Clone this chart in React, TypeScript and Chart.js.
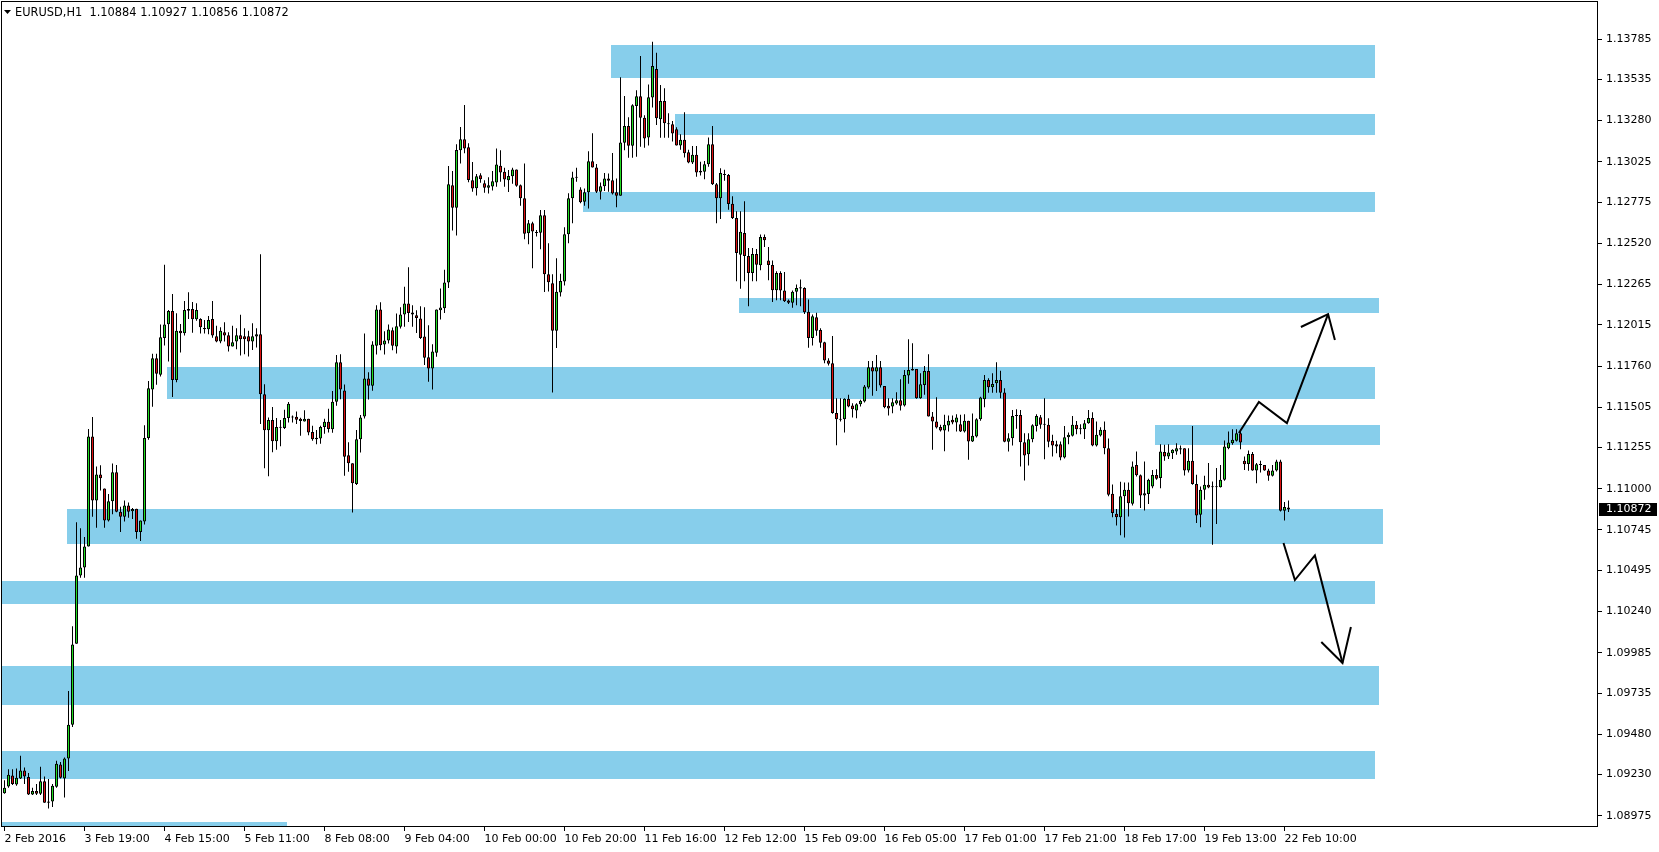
import React, { useEffect, useRef } from 'react';
import { Chart, registerables } from 'chart.js';

Chart.register(...registerables);

const symbolName = 'EURUSD,H1';

const opens = [
1.09115,1.09156,1.09224,1.09168,1.09206,1.09256,1.09215,1.09106,1.09129,1.09111,
1.09188,1.09056,1.09063,1.09154,1.09292,1.09206,1.09329,1.09538,1.10040,1.10463,
1.10513,1.10642,1.11324,1.10927,1.11088,1.11002,1.10804,1.10922,1.11102,1.10858,
1.10827,1.10897,1.10861,1.10877,1.10733,1.10797,1.11315,1.11615,1.11808,1.11706,
1.11933,1.12019,1.12101,1.11673,1.11978,1.11963,1.12114,1.12114,1.12050,1.12052,
1.11996,1.11988,1.12052,1.11945,1.11912,1.11969,1.11951,1.11881,1.11912,1.11951,
1.11945,1.11945,1.11912,1.11943,1.11957,1.11586,1.11362,1.11426,1.11294,1.11378,
1.11376,1.11438,1.11442,1.11446,1.11434,1.11417,1.11434,1.11351,1.11316,1.11312,
1.11382,1.11415,1.11368,1.11539,1.11783,1.11609,1.11207,1.11158,1.11030,1.11306,
1.11448,1.11683,1.11638,1.11885,1.12110,1.11894,1.11918,1.11982,1.11881,1.12003,
1.12079,1.12147,1.12091,1.12075,1.12054,1.11943,1.11815,1.11745,1.11842,1.12105,
1.12118,1.12277,1.12880,1.12741,1.13096,1.13164,1.13115,1.12911,1.12861,1.12942,
1.12892,1.12865,1.12872,1.12897,1.13000,1.12963,1.12910,1.12935,1.12978,1.12879,
1.12799,1.12582,1.12644,1.12588,1.12586,1.12694,1.12329,1.12273,1.11979,1.12216,
1.12284,1.12576,1.12799,1.12928,1.12854,1.12778,1.12836,1.13029,1.12990,1.12840,
1.12873,1.12922,1.12910,1.12836,1.12815,1.13143,1.13246,1.13124,1.13371,1.13431,
1.13297,1.13176,1.13423,1.13600,1.13288,1.13402,1.13263,1.13257,1.13226,1.13126,
1.13161,1.13084,1.13020,1.13068,1.12969,1.12964,1.13010,1.13134,1.12886,1.12800,
1.12943,1.12943,1.12765,1.12677,1.12450,1.12584,1.12442,1.12337,1.12454,1.12384,
1.12559,1.12413,1.12386,1.12230,1.12337,1.12228,1.12166,1.12152,1.12220,1.12240,
1.12244,1.12096,1.11933,1.12062,1.11983,1.11907,1.11794,1.11777,1.11469,1.11433,
1.11431,1.11557,1.11516,1.11485,1.11524,1.11540,1.11627,1.11753,1.11726,1.11753,
1.11637,1.11514,1.11510,1.11528,1.11549,1.11516,1.11701,1.11742,1.11742,1.11561,
1.11643,1.11730,1.11448,1.11417,1.11382,1.11361,1.11392,1.11427,1.11411,1.11400,
1.11355,1.11421,1.11293,1.11324,1.11431,1.11554,1.11674,1.11628,1.11653,1.11674,
1.11597,1.11292,1.11313,1.11451,1.11457,1.11288,1.11214,1.11307,1.11389,1.11443,
1.11402,1.11396,1.11297,1.11276,1.11276,1.11194,1.11319,1.11328,1.11396,1.11371,
1.11369,1.11406,1.11439,1.11268,1.11330,1.11365,1.11251,1.10969,1.10846,1.10823,
1.10953,1.10994,1.10907,1.11148,1.11084,1.10959,1.10967,1.11014,1.11086,1.11066,
1.11227,1.11200,1.11220,1.11231,1.11251,1.11251,1.11113,1.11173,1.11029,1.10839,
1.10994,1.11025,1.11014,1.11010,1.11010,1.11056,1.11251,1.11282,1.11297,1.11344,
1.11173,1.11154,1.11216,1.11113,1.11148,1.11148,1.11113,1.11080,1.11113,1.11169,
1.10864,1.10884];

const highs = [
1.09195,1.09263,1.09263,1.09267,1.09347,1.09274,1.09240,1.09149,1.09172,1.09279,
1.09218,1.09202,1.09172,1.09315,1.09308,1.09336,1.09747,1.10149,1.10792,1.10756,
1.10702,1.11370,1.11445,1.11138,1.11145,1.11002,1.10967,1.11156,1.11147,1.10888,
1.10927,1.10915,1.10881,1.10877,1.10804,1.11393,1.11668,1.11836,1.11836,1.12018,
1.12388,1.12107,1.12206,1.12087,1.12021,1.12163,1.12217,1.12157,1.12149,1.12056,
1.12046,1.12070,1.12163,1.12009,1.12000,1.12031,1.11969,1.12009,1.11994,1.12077,
1.11994,1.11978,1.12025,1.11994,1.12453,1.11648,1.11442,1.11506,1.11438,1.11426,
1.11489,1.11537,1.11454,1.11479,1.11440,1.11487,1.11434,1.11391,1.11364,1.11391,
1.11434,1.11495,1.11605,1.11828,1.11833,1.11646,1.11288,1.11158,1.11364,1.11457,
1.11961,1.11722,1.11914,1.12137,1.12155,1.11976,1.12017,1.11999,1.12085,1.12124,
1.12251,1.12372,1.12137,1.12106,1.12130,1.12124,1.12013,1.11895,1.12110,1.12240,
1.12357,1.12999,1.12968,1.13134,1.13241,1.13377,1.13140,1.13024,1.12950,1.12954,
1.12911,1.12929,1.12968,1.13108,1.13097,1.12988,1.12974,1.12988,1.12978,1.12885,
1.13015,1.12665,1.12654,1.12603,1.12726,1.12726,1.12520,1.12329,1.12428,1.12331,
1.12619,1.12830,1.12963,1.12988,1.12867,1.12860,1.13091,1.13202,1.13011,1.12897,
1.12955,1.12953,1.13079,1.12922,1.13549,1.13432,1.13301,1.13382,1.13468,1.13680,
1.13313,1.13503,1.13769,1.13700,1.13500,1.13480,1.13325,1.13278,1.13239,1.13196,
1.13332,1.13099,1.13123,1.13123,1.13026,1.13030,1.13175,1.13247,1.12893,1.12985,
1.12976,1.12949,1.12811,1.12718,1.12718,1.12780,1.12491,1.12491,1.12485,1.12574,
1.12574,1.12498,1.12413,1.12347,1.12347,1.12343,1.12172,1.12228,1.12265,1.12296,
1.12248,1.12172,1.12079,1.12090,1.11994,1.11911,1.11808,1.11946,1.11561,1.11561,
1.11561,1.11582,1.11530,1.11530,1.11551,1.11643,1.11792,1.11792,1.11829,1.11792,
1.11637,1.11561,1.11561,1.11598,1.11678,1.11736,1.11926,1.11901,1.11742,1.11716,
1.11761,1.11833,1.11475,1.11567,1.11396,1.11458,1.11454,1.11454,1.11462,1.11458,
1.11462,1.11421,1.11466,1.11437,1.11570,1.11705,1.11684,1.11715,1.11783,1.11731,
1.11622,1.11344,1.11488,1.11492,1.11488,1.11344,1.11344,1.11400,1.11461,1.11457,
1.11560,1.11437,1.11334,1.11297,1.11293,1.11389,1.11348,1.11451,1.11420,1.11400,
1.11426,1.11488,1.11474,1.11416,1.11381,1.11416,1.11311,1.11027,1.10874,1.11043,
1.11039,1.11039,1.11169,1.11231,1.11089,1.11169,1.11062,1.11117,1.11121,1.11276,
1.11272,1.11276,1.11245,1.11282,1.11268,1.11251,1.11251,1.11389,1.11087,1.11014,
1.11080,1.11159,1.11045,1.11128,1.11148,1.11299,1.11354,1.11369,1.11369,1.11360,
1.11200,1.11237,1.11227,1.11159,1.11173,1.11148,1.11124,1.11148,1.11179,1.11179,
1.10918,1.10927];

const lows = [
1.09111,1.09149,1.09165,1.09161,1.09202,1.09172,1.09104,1.09104,1.09104,1.09104,
1.09056,1.09020,1.09029,1.09149,1.09206,1.09088,1.09252,1.09524,1.10040,1.10449,
1.10449,1.10642,1.10827,1.10758,1.10990,1.10758,1.10797,1.10842,1.10854,1.10733,
1.10797,1.10820,1.10813,1.10690,1.10677,1.10779,1.11304,1.11508,1.11645,1.11695,
1.11888,1.11788,1.11568,1.11660,1.11844,1.11949,1.12052,1.11967,1.12041,1.11961,
1.11961,1.11957,1.11936,1.11908,1.11901,1.11912,1.11850,1.11881,1.11864,1.11825,
1.11833,1.11819,1.11860,1.11875,1.11401,1.11127,1.11077,1.11226,1.11242,1.11263,
1.11370,1.11411,1.11411,1.11401,1.11329,1.11417,1.11331,1.11298,1.11275,1.11279,
1.11341,1.11349,1.11347,1.11514,1.11554,1.11081,1.11106,1.10853,1.11024,1.11224,
1.11436,1.11553,1.11607,1.11831,1.11858,1.11831,1.11899,1.11858,1.11838,1.11992,
1.12003,1.12033,1.12003,1.11965,1.11928,1.11766,1.11663,1.11615,1.11818,1.12048,
1.12089,1.12244,1.12599,1.12568,1.13014,1.13078,1.12898,1.12840,1.12816,1.12896,
1.12834,1.12828,1.12847,1.12871,1.12902,1.12871,1.12838,1.12889,1.12871,1.12753,
1.12545,1.12514,1.12365,1.12562,1.12483,1.12218,1.12222,1.11597,1.11872,1.12191,
1.12259,1.12520,1.12644,1.12902,1.12768,1.12753,1.12735,1.12990,1.12832,1.12792,
1.12844,1.12840,1.12823,1.12743,1.12815,1.13097,1.13050,1.13050,1.13056,1.13118,
1.13112,1.13126,1.13361,1.13253,1.13174,1.13174,1.13174,1.13150,1.13126,1.13099,
1.13051,1.13016,1.13012,1.12933,1.12940,1.12917,1.12995,1.12882,1.12645,1.12670,
1.12908,1.12728,1.12670,1.12285,1.12238,1.12285,1.12131,1.12285,1.12285,1.12353,
1.12498,1.12292,1.12156,1.12168,1.12168,1.12156,1.12145,1.12121,1.12137,1.12131,
1.12083,1.11873,1.11888,1.11948,1.11874,1.11777,1.11763,1.11465,1.11269,1.11417,
1.11349,1.11505,1.11441,1.11437,1.11510,1.11534,1.11619,1.11576,1.11606,1.11627,
1.11499,1.11454,1.11468,1.11520,1.11485,1.11510,1.11650,1.11732,1.11557,1.11557,
1.11582,1.11448,1.11242,1.11374,1.11355,1.11232,1.11355,1.11400,1.11355,1.11351,
1.11349,1.11180,1.11289,1.11318,1.11421,1.11505,1.11595,1.11595,1.11595,1.11560,
1.11288,1.11231,1.11268,1.11371,1.11138,1.11051,1.11144,1.11288,1.11354,1.11371,
1.11183,1.11257,1.11200,1.11220,1.11177,1.11187,1.11276,1.11323,1.11338,1.11338,
1.11309,1.11402,1.11264,1.11262,1.11323,1.11214,1.10953,1.10823,1.10773,1.10712,
1.10699,1.10829,1.10897,1.11076,1.10881,1.10866,1.10905,1.11004,1.11056,1.11004,
1.11173,1.11185,1.11185,1.11210,1.11214,1.11082,1.11101,1.11025,1.10788,1.10761,
1.10932,1.11004,1.10654,1.10782,1.11008,1.11049,1.11245,1.11272,1.11293,1.11245,
1.11117,1.11111,1.11111,1.11035,1.11101,1.11111,1.11049,1.11076,1.11107,1.10860,
1.10804,1.10856];

const closes = [
1.09149,1.09229,1.09172,1.09211,1.09256,1.09218,1.09106,1.09129,1.09111,1.09188,
1.09056,1.09063,1.09161,1.09297,1.09211,1.09329,1.09538,1.10036,1.10463,1.10513,
1.10642,1.11324,1.10927,1.11088,1.11065,1.10804,1.10922,1.11102,1.10858,1.10827,
1.10897,1.10858,1.10874,1.10733,1.10804,1.11315,1.11622,1.11808,1.11713,1.11938,
1.12018,1.12101,1.11673,1.11978,1.11963,1.12107,1.12103,1.12050,1.12107,1.12000,
1.11988,1.12046,1.11949,1.11912,1.11978,1.11949,1.11881,1.11908,1.11951,1.11926,
1.11926,1.11912,1.11945,1.11957,1.11586,1.11362,1.11426,1.11294,1.11382,1.11382,
1.11438,1.11526,1.11446,1.11428,1.11419,1.11434,1.11349,1.11306,1.11306,1.11382,
1.11415,1.11370,1.11539,1.11783,1.11615,1.11199,1.11158,1.11034,1.11306,1.11442,
1.11683,1.11638,1.11894,1.12110,1.11889,1.11918,1.11986,1.11885,1.12007,1.12079,
1.12147,1.12089,1.12079,1.12058,1.11934,1.11811,1.11745,1.11850,1.12110,1.12122,
1.12277,1.12886,1.12741,1.13098,1.13164,1.13107,1.12913,1.12859,1.12935,1.12917,
1.12865,1.12880,1.12905,1.13009,1.12959,1.12916,1.12937,1.12978,1.12877,1.12799,
1.12580,1.12644,1.12593,1.12584,1.12694,1.12329,1.12279,1.11979,1.12220,1.12286,
1.12576,1.12799,1.12928,1.12926,1.12774,1.12836,1.13029,1.12990,1.12840,1.12873,
1.12922,1.12908,1.12828,1.12815,1.13145,1.13246,1.13124,1.13375,1.13431,1.13297,
1.13169,1.13425,1.13618,1.13294,1.13402,1.13263,1.13257,1.13201,1.13126,1.13161,
1.13078,1.13020,1.13068,1.12958,1.12958,1.13010,1.13134,1.12886,1.12800,1.12955,
1.12949,1.12763,1.12677,1.12460,1.12592,1.12442,1.12337,1.12454,1.12388,1.12559,
1.12539,1.12386,1.12230,1.12337,1.12228,1.12162,1.12152,1.12220,1.12244,1.12248,
1.12094,1.11933,1.12069,1.11979,1.11905,1.11794,1.11775,1.11469,1.11431,1.11427,
1.11557,1.11510,1.11493,1.11524,1.11545,1.11633,1.11753,1.11726,1.11753,1.11639,
1.11505,1.11497,1.11536,1.11549,1.11514,1.11705,1.11736,1.11732,1.11561,1.11648,
1.11730,1.11448,1.11417,1.11380,1.11361,1.11396,1.11421,1.11411,1.11442,1.11355,
1.11421,1.11293,1.11328,1.11431,1.11566,1.11674,1.11628,1.11649,1.11674,1.11595,
1.11292,1.11313,1.11451,1.11457,1.11288,1.11206,1.11307,1.11393,1.11451,1.11396,
1.11396,1.11292,1.11268,1.11262,1.11194,1.11319,1.11334,1.11396,1.11369,1.11369,
1.11406,1.11439,1.11268,1.11334,1.11365,1.11251,1.10963,1.10850,1.10823,1.10953,
1.10994,1.10911,1.11138,1.11084,1.10959,1.10973,1.11056,1.11086,1.11062,1.11231,
1.11200,1.11225,1.11241,1.11251,1.11243,1.11113,1.11173,1.11029,1.10835,1.10994,
1.11025,1.11008,1.11010,1.11014,1.11056,1.11262,1.11286,1.11303,1.11344,1.11286,
1.11152,1.11216,1.11113,1.11152,1.11152,1.11113,1.11080,1.11113,1.11169,1.10864,
1.10887,1.10872];

const xTickBars = [0, 20, 40, 60, 80, 100, 120, 140, 160, 180, 200, 220, 240, 260, 280, 300, 320];
const xTickLabels = [
  '2 Feb 2016', '3 Feb 19:00', '4 Feb 15:00', '5 Feb 11:00', '8 Feb 08:00', '9 Feb 04:00',
  '10 Feb 00:00', '10 Feb 20:00', '11 Feb 16:00', '12 Feb 12:00', '15 Feb 09:00', '16 Feb 05:00',
  '17 Feb 01:00', '17 Feb 21:00', '18 Feb 17:00', '19 Feb 13:00', '22 Feb 10:00',
];

const yTickValues = [
  1.13785, 1.13535, 1.1328, 1.13025, 1.12775, 1.1252, 1.12265, 1.12015, 1.1176, 1.11505,
  1.11255, 1.11, 1.10745, 1.10495, 1.1024, 1.09985, 1.09735, 1.0948, 1.0923, 1.08975,
];

const zoneStartBar = [151.6, 167.6, 144.6, 183.6, 40.6, 287.6, 15.6, -2, -2, -2, -2];
const zoneEndBar = [342.7, 342.7, 342.7, 343.5, 342.7, 343.8, 344.6, 342.7, 343.5, 342.7, 70.5];
const zoneTop = [1.1375, 1.13321, 1.12838, 1.12181, 1.11754, 1.11395, 1.10875, 1.10429, 1.09902, 1.09376, 1.08936];
const zoneBottom = [1.13542, 1.13191, 1.12714, 1.12089, 1.11558, 1.11271, 1.10658, 1.10287, 1.09661, 1.09203, 1.0885];

const upPathBars = [308.6, 313.6, 320.6, 330.9];
const upPathPrices = [1.11345, 1.11537, 1.11407, 1.12082];
const upHeadBars = [324.1, 330.9, 332.6];
const upHeadPrices = [1.12002, 1.12082, 1.11921];
const downPathBars = [319.75, 322.6, 327.6, 334.5];
const downPathPrices = [1.10664, 1.10435, 1.10587, 1.09921];
const downHeadBars = [329.2, 334.5, 336.6];
const downHeadPrices = [1.10051, 1.09921, 1.10144];

const Y_MIN = 1.089054;
const Y_MAX = 1.140208;
const X_MIN = -0.875;
const X_MAX = 398.375;

const BULL = '#22dd22';
const BEAR = '#dd1111';
const ZONE = '#87ceeb';
const FONT = 'DejaVu Sans';

const clipArea = (ctx: any, a: any) => {
  ctx.beginPath();
  ctx.rect(a.left, a.top, a.right - a.left, a.bottom - a.top);
  ctx.clip();
};

const mtPlugin = {
  id: 'mt4',
  beforeDatasetsDraw(chart: any) {
    const { ctx, chartArea } = chart;
    const xs = chart.scales.x;
    const ys = chart.scales.y;
    ctx.save();
    clipArea(ctx, chartArea);
    ctx.fillStyle = ZONE;
    for (let i = 0; i < zoneTop.length; i++) {
      const x1 = Math.round(xs.getPixelForValue(zoneStartBar[i]));
      const x2 = Math.round(xs.getPixelForValue(zoneEndBar[i]));
      const y1 = Math.round(ys.getPixelForValue(zoneTop[i]));
      const y2 = Math.round(ys.getPixelForValue(zoneBottom[i]));
      ctx.fillRect(x1, y1, x2 - x1, y2 - y1);
    }
    ctx.restore();
  },
  afterDatasetsDraw(chart: any) {
    const { ctx, chartArea } = chart;
    const xs = chart.scales.x;
    const ys = chart.scales.y;
    const poly = (bars: number[], prices: number[]) => {
      ctx.beginPath();
      bars.forEach((b, i) => {
        const px = xs.getPixelForValue(b);
        const py = ys.getPixelForValue(prices[i]);
        if (i === 0) ctx.moveTo(px, py);
        else ctx.lineTo(px, py);
      });
      ctx.stroke();
    };
    ctx.save();
    clipArea(ctx, chartArea);
    ctx.strokeStyle = '#000';
    ctx.lineWidth = 2;
    ctx.lineJoin = 'miter';
    poly(upPathBars, upPathPrices);
    poly(upHeadBars, upHeadPrices);
    poly(downPathBars, downPathPrices);
    poly(downHeadBars, downHeadPrices);
    ctx.restore();
  },
  afterDraw(chart: any) {
    const { ctx, chartArea } = chart;
    const ys = chart.scales.y;
    ctx.save();
    ctx.strokeStyle = '#000';
    ctx.lineWidth = 1;
    ctx.strokeRect(chartArea.left + 0.5, chartArea.top + 0.5, chartArea.right - chartArea.left - 1, chartArea.bottom - chartArea.top - 1);
    const last = opens.length - 1;
    ctx.fillStyle = '#000';
    ctx.beginPath();
    ctx.moveTo(chartArea.left + 3, 10);
    ctx.lineTo(chartArea.left + 10, 10);
    ctx.lineTo(chartArea.left + 6.5, 14);
    ctx.closePath();
    ctx.fill();
    ctx.font = `11.4px "${FONT}"`;
    ctx.textBaseline = 'middle';
    ctx.textAlign = 'left';
    const header = `${symbolName}  ${opens[last].toFixed(5)} ${highs[last].toFixed(5)} ${lows[last].toFixed(5)} ${closes[last].toFixed(5)}`;
    ctx.fillText(header, chartArea.left + 14, 13);
    ctx.font = `11px "${FONT}"`;
    const py = Math.round(ys.getPixelForValue(closes[last]));
    ctx.fillStyle = '#000';
    ctx.fillRect(chartArea.right + 1, py - 6, 58, 13);
    ctx.fillStyle = '#fff';
    ctx.fillText(closes[last].toFixed(5), chartArea.right + 8, py + 0.5);
    ctx.restore();
  },
};

const zeroPad = (s: any) => {
  s.paddingTop = 0;
  s.paddingBottom = 0;
  s.paddingLeft = 0;
  s.paddingRight = 0;
};

export default function App() {
  const ref = useRef<HTMLCanvasElement>(null);
  useEffect(() => {
    const canvas = ref.current;
    if (!canvas) return;
    const idx = opens.map((_, i) => i);
    const bodyData = idx.map((i) => ({ x: i, y: [Math.min(opens[i], closes[i]), Math.max(opens[i], closes[i])] }));
    const wickData = idx.map((i) => ({ x: i, y: [lows[i], highs[i]] }));
    const bodyColors = idx.map((i) => (closes[i] >= opens[i] ? BULL : BEAR));
    const tickFont = { family: FONT, size: 11 };
    const chart = new Chart(canvas, {
      type: 'bar',
      data: {
        datasets: [
          {
            label: 'body',
            data: bodyData as any,
            backgroundColor: bodyColors,
            borderColor: '#000',
            borderWidth: 1,
            borderSkipped: false,
            barThickness: 3,
            minBarLength: 1,
            grouped: false,
            inflateAmount: 0,
            order: 0,
          } as any,
          {
            label: 'wick',
            data: wickData as any,
            backgroundColor: '#000',
            borderWidth: 0,
            barThickness: 1,
            minBarLength: 1,
            grouped: false,
            inflateAmount: 0,
            order: 1,
          } as any,
        ],
      },
      options: {
        animation: false,
        responsive: false,
        events: [],
        layout: { padding: { top: 1, left: 1, right: 0, bottom: 0 } },
        plugins: { legend: { display: false }, tooltip: { enabled: false }, title: { display: false } },
        scales: {
          x: {
            type: 'linear',
            min: X_MIN,
            max: X_MAX,
            offset: false,
            grid: { drawOnChartArea: false, offset: false, tickLength: 4, color: '#000' },
            border: { display: false },
            afterBuildTicks: (s: any) => {
              s.ticks = xTickBars.map((v) => ({ value: v }));
            },
            afterFit: (s: any) => {
              s.height = 25;
              zeroPad(s);
            },
            ticks: {
              autoSkip: false,
              maxRotation: 0,
              minRotation: 0,
              align: 'start',
              padding: 2,
              color: '#000',
              font: tickFont,
              callback: (_v: any, i: number) => xTickLabels[i],
            },
          } as any,
          y: {
            type: 'linear',
            position: 'right',
            min: Y_MIN,
            max: Y_MAX,
            beginAtZero: false,
            grid: { drawOnChartArea: false, tickLength: 4, color: '#000' },
            border: { display: false },
            afterBuildTicks: (s: any) => {
              s.ticks = yTickValues.map((v) => ({ value: v }));
            },
            afterFit: (s: any) => {
              s.width = 61;
              zeroPad(s);
            },
            ticks: {
              autoSkip: false,
              padding: 4,
              color: '#000',
              font: tickFont,
              callback: (v: any) => Number(v).toFixed(5),
            },
          } as any,
        },
      },
      plugins: [mtPlugin],
    });
    return () => chart.destroy();
  }, []);
  return (
    <div style={{ position: 'fixed', left: 0, top: 0, width: 1659, height: 852, background: '#fff' }}>
      <canvas ref={ref} width={1659} height={852} style={{ display: 'block', width: 1659, height: 852 }} />
    </div>
  );
}
